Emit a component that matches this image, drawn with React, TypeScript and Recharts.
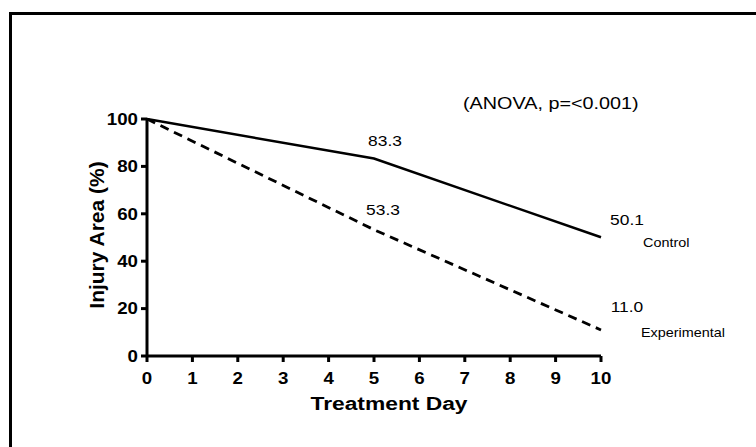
import React from 'react';
import { LineChart, Line, XAxis, YAxis, LabelList } from 'recharts';

const days = [0, 5, 10];
const controlValues = [100, 83.3, 50.1];
const experimentalValues = [100, 53.3, 11.0];
const controlLabels = ['', '83.3', '50.1'];
const experimentalLabels = ['', '53.3', '11.0'];
const xTicks = [0, 1, 2, 3, 4, 5, 6, 7, 8, 9, 10];
const yTicks = [0, 20, 40, 60, 80, 100];
const seriesNames = ['Control', 'Experimental'];
const annotation = '(ANOVA, p=<0.001)';
const xTitle = 'Treatment Day';
const yTitle = 'Injury Area (%)';

const data = days.map((d, i) => ({
  day: d,
  control: controlValues[i],
  experimental: experimentalValues[i],
  controlLabel: controlLabels[i],
  experimentalLabel: experimentalLabels[i],
}));

const FONT = '"Liberation Sans", Arial, sans-serif';
const SX = 1.2;

const StretchText = ({ x, y, anchor = 'start', size, bold = false, sx = SX, rotate = 0, children }: any) => (
  <text
    transform={`translate(${x},${y}) rotate(${rotate}) scale(${sx},1)`}
    x={0}
    y={0}
    textAnchor={anchor}
    dominantBaseline="central"
    fontSize={size}
    fontWeight={bold ? 'bold' : 'normal'}
    fontFamily={FONT}
    fill="#000"
  >
    {children}
  </text>
);

const XTick = (props: any) => (
  <StretchText x={props.x} y={props.y + 14} anchor="middle" size={17} bold sx={1.1}>
    {props.payload.value}
  </StretchText>
);

const YTick = (props: any) => (
  <StretchText x={props.x - 1} y={props.y} anchor="end" size={17} bold sx={1.1}>
    {props.payload.value}
  </StretchText>
);

const makeLabel = (labels: string[], name: string, offsets: { dx: number; dy: number }[], nameDx: number, nameDy: number) =>
  (props: any) => {
    const { x, y, index } = props;
    const out: any[] = [];
    const lbl = labels[index];
    if (lbl) {
      out.push(
        <StretchText key="v" x={x + offsets[index].dx} y={y + offsets[index].dy} anchor="middle" size={14.5}>
          {lbl}
        </StretchText>
      );
    }
    if (index === labels.length - 1) {
      out.push(
        <StretchText key="n" x={x + nameDx} y={y + nameDy} anchor="start" size={12}>
          {name}
        </StretchText>
      );
    }
    return <g>{out}</g>;
  };

const controlOffsets = [{ dx: 0, dy: 0 }, { dx: 11, dy: -18 }, { dx: 26, dy: -17 }];
const expOffsets = [{ dx: 0, dy: 0 }, { dx: 9, dy: -20 }, { dx: 26, dy: -23 }];

export default function App() {
  return (
    <div style={{ position: 'absolute', left: 0, top: 0, width: 756, height: 447, background: '#fff', overflow: 'hidden' }}>
      <div style={{ position: 'absolute', left: 9, top: 12, width: 760, height: 450, borderTop: '3px solid #000', borderLeft: '3px solid #000', boxSizing: 'border-box' }} />
      <LineChart width={756} height={447} data={data} margin={{ top: 119, right: 155, left: 87, bottom: 61 }} style={{ position: 'absolute', left: 0, top: 0 }}>
        <XAxis
          dataKey="day"
          type="number"
          domain={[0, 10]}
          ticks={xTicks}
          height={30}
          axisLine={{ stroke: '#000', strokeWidth: 3 }}
          tickLine={{ stroke: '#000', strokeWidth: 3 }}
          tickSize={6}
          tick={<XTick />}
          interval={0}
        />
        <YAxis
          type="number"
          domain={[0, 100]}
          ticks={yTicks}
          width={60}
          axisLine={{ stroke: '#000', strokeWidth: 3 }}
          tickLine={{ stroke: '#000', strokeWidth: 3 }}
          tickSize={6}
          tick={<YTick />}
        />
        <Line
          dataKey="control"
          stroke="#000"
          strokeWidth={2.5}
          dot={false}
          isAnimationActive={false}
        >
          <LabelList dataKey="controlLabel" content={makeLabel(controlLabels, seriesNames[0], controlOffsets, 42, 6)} />
        </Line>
        <Line
          dataKey="experimental"
          stroke="#000"
          strokeWidth={2.8}
          strokeDasharray="9 6"
          dot={false}
          isAnimationActive={false}
        >
          <LabelList dataKey="experimentalLabel" content={makeLabel(experimentalLabels, seriesNames[1], expOffsets, 40, 3)} />
        </Line>
        <StretchText x={463} y={104} size={16.5}>{annotation}</StretchText>
        <StretchText x={389} y={403} anchor="middle" size={19} bold>{xTitle}</StretchText>
        <StretchText x={96} y={235} anchor="middle" size={21} bold sx={1} rotate={-90}>{yTitle}</StretchText>
      </LineChart>
    </div>
  );
}
